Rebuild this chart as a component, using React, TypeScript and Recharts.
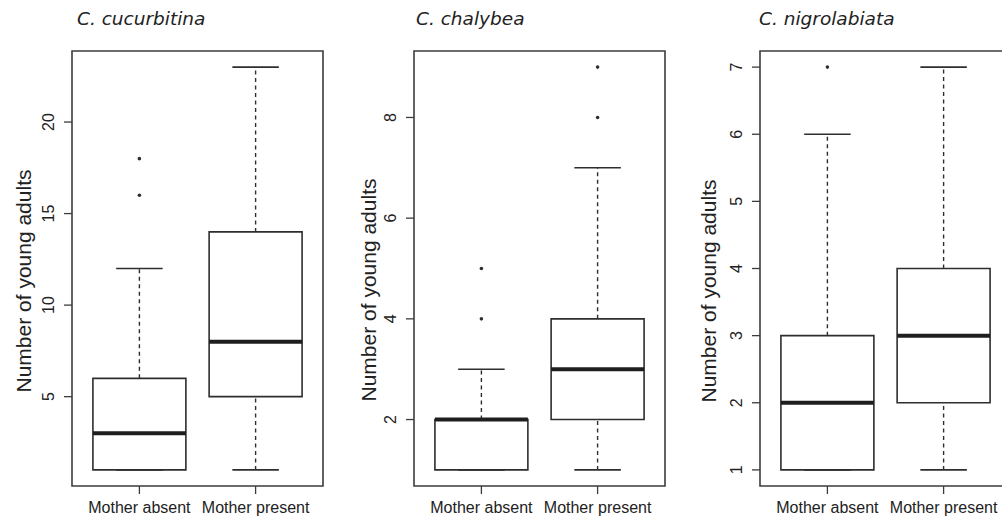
import React from "react";
import { ComposedChart, XAxis, YAxis, ReferenceArea, ReferenceLine, Scatter } from "recharts";

const categories = ["Mother absent", "Mother present"];
const categoryPositions = [1, 2];
const speciesNames = ["C. cucurbitina", "C. chalybea", "C. nigrolabiata"];
const yAxisTitle = "Number of young adults";

// five-number summaries per group: [lower whisker, Q1, median, Q3, upper whisker]
const cucurbitinaBoxes = [
  [1, 1, 3, 6, 12],
  [1, 5, 8, 14, 23],
];
const cucurbitinaOutliers = [[16, 18], []];
const cucurbitinaTicks = [5, 10, 15, 20];

const chalybeaBoxes = [
  [1, 1, 2, 2, 3],
  [1, 2, 3, 4, 7],
];
const chalybeaOutliers = [[4, 5], [8, 9]];
const chalybeaTicks = [2, 4, 6, 8];

const nigrolabiataBoxes = [
  [1, 1, 2, 3, 6],
  [1, 2, 3, 4, 7],
];
const nigrolabiataOutliers = [[7], []];
const nigrolabiataTicks = [1, 2, 3, 4, 5, 6, 7];

const INK = "#2e2e2e";
const FRAME = "#3c3c3c";
const BOX_HALF = 0.4;
const STAPLE_HALF = 0.2;

type PanelProps = {
  boxes: number[][];
  outliers: number[][];
  ticks: number[];
  left: number;
};

const YTick = (props: any) => {
  const { x, y, payload } = props;
  return (
    <text
      x={x}
      y={y}
      transform={`rotate(-90 ${x} ${y})`}
      textAnchor="middle"
      fontFamily="'Liberation Sans', Arial, sans-serif"
      fontSize={16}
      fill="#222"
    >
      {payload.value}
    </text>
  );
};

const XTick = (props: any) => {
  const { x, y, payload } = props;
  return (
    <text
      x={x}
      y={y}
      dy={17}
      textAnchor="middle"
      fontFamily="'Liberation Sans', Arial, sans-serif"
      fontSize={16}
      fill="#222"
    >
      {categories[categoryPositions.indexOf(payload.value)]}
    </text>
  );
};

function Panel({ boxes, outliers, ticks, left }: PanelProps) {
  const all = boxes.flat().concat(outliers.flat());
  const lo = Math.min(...all);
  const hi = Math.max(...all);
  const pad = (hi - lo) * 0.04;
  const yDomain = [lo - pad, hi + pad];
  const xDomain = [0.5 - 0.08, categoryPositions.length + 0.5 + 0.08];

  const points: { x: number; y: number }[] = [];
  outliers.forEach((vals, i) => vals.forEach((v) => points.push({ x: categoryPositions[i], y: v })));

  return (
    <div style={{ position: "absolute", left, top: 0 }}>
      <ComposedChart width={340} height={525} margin={{ top: 51, right: 17, bottom: 0, left: 0 }} data={points}>
        <XAxis
          type="number"
          dataKey="x"
          domain={xDomain}
          ticks={categoryPositions}
          interval={0}
          allowDataOverflow
          height={39}
          tickSize={8}
          axisLine={false}
          tickLine={{ stroke: FRAME, strokeWidth: 1.3 }}
          tick={<XTick />}
        />
        <YAxis
          type="number"
          dataKey="y"
          domain={yDomain}
          ticks={ticks}
          interval={0}
          allowDataOverflow
          width={72}
          tickSize={8}
          tickMargin={10}
          axisLine={false}
          tickLine={{ stroke: FRAME, strokeWidth: 1.3 }}
          tick={<YTick />}
        />
        {boxes.map((b, i) => {
          const cx = categoryPositions[i];
          const [mn, q1, med, q3, mx] = b;
          return (
            <React.Fragment key={i}>
              {q3 < mx && (
                <ReferenceLine
                  segment={[{ x: cx, y: q3 }, { x: cx, y: mx }]}
                  stroke={INK}
                  strokeWidth={1.4}
                  strokeDasharray="4 3.5"
                  ifOverflow="visible"
                />
              )}
              {mn < q1 && (
                <ReferenceLine
                  segment={[{ x: cx, y: mn }, { x: cx, y: q1 }]}
                  stroke={INK}
                  strokeWidth={1.4}
                  strokeDasharray="4 3.5"
                  ifOverflow="visible"
                />
              )}
              <ReferenceLine
                segment={[{ x: cx - STAPLE_HALF, y: mx }, { x: cx + STAPLE_HALF, y: mx }]}
                stroke={INK}
                strokeWidth={1.6}
                ifOverflow="visible"
              />
              <ReferenceLine
                segment={[{ x: cx - STAPLE_HALF, y: mn }, { x: cx + STAPLE_HALF, y: mn }]}
                stroke={INK}
                strokeWidth={1.6}
                ifOverflow="visible"
              />
              <ReferenceArea
                x1={cx - BOX_HALF}
                x2={cx + BOX_HALF}
                y1={q1}
                y2={q3}
                fill="none"
                fillOpacity={0}
                stroke={INK}
                strokeWidth={1.6}
                strokeOpacity={1}
                ifOverflow="visible"
              />
              <ReferenceLine
                segment={[{ x: cx - BOX_HALF, y: med }, { x: cx + BOX_HALF, y: med }]}
                stroke="#1e1e1e"
                strokeWidth={4}
                ifOverflow="visible"
              />
            </React.Fragment>
          );
        })}
        <ReferenceArea
          x1={xDomain[0]}
          x2={xDomain[1]}
          y1={yDomain[0]}
          y2={yDomain[1]}
          fill="none"
          fillOpacity={0}
          stroke={FRAME}
          strokeWidth={1.6}
          strokeOpacity={1}
          ifOverflow="visible"
        />
        <Scatter
          data={points}
          dataKey="y"
          isAnimationActive={false}
          shape={(p: any) => <circle cx={p.cx} cy={p.cy} r={1.8} fill={INK} />}
        />
      </ComposedChart>
    </div>
  );
}

const titleStyle = {
  fontFamily: "'DejaVu Sans', Verdana, sans-serif",
  fontStyle: "italic",
  fontSize: 18.5,
  fill: "#222",
};

const labelStyle = {
  fontFamily: "'Liberation Sans', Arial, sans-serif",
  fontSize: 21,
  fill: "#222",
};

export default function App() {
  const titlePos = [
    [77, 25],
    [416, 25],
    [759, 25],
  ];
  const labelPos = [
    [31, 281],
    [376, 290],
    [716, 291],
  ];
  return (
    <div
      style={{
        position: "absolute",
        left: 0,
        top: 0,
        width: 1002,
        height: 525,
        overflow: "hidden",
        background: "#fff",
      }}
    >
      <Panel boxes={cucurbitinaBoxes} outliers={cucurbitinaOutliers} ticks={cucurbitinaTicks} left={0} />
      <Panel boxes={chalybeaBoxes} outliers={chalybeaOutliers} ticks={chalybeaTicks} left={342} />
      <Panel boxes={nigrolabiataBoxes} outliers={nigrolabiataOutliers} ticks={nigrolabiataTicks} left={688} />
      <svg
        width={1002}
        height={525}
        style={{ position: "absolute", left: 0, top: 0, pointerEvents: "none" }}
      >
        {speciesNames.map((n, i) => (
          <text key={n} x={titlePos[i][0]} y={titlePos[i][1]} style={titleStyle}>
            {n}
          </text>
        ))}
        {labelPos.map(([x, y], i) => (
          <text
            key={i}
            x={x}
            y={y}
            transform={`rotate(-90 ${x} ${y})`}
            textAnchor="middle"
            style={labelStyle}
          >
            {yAxisTitle}
          </text>
        ))}
      </svg>
    </div>
  );
}
